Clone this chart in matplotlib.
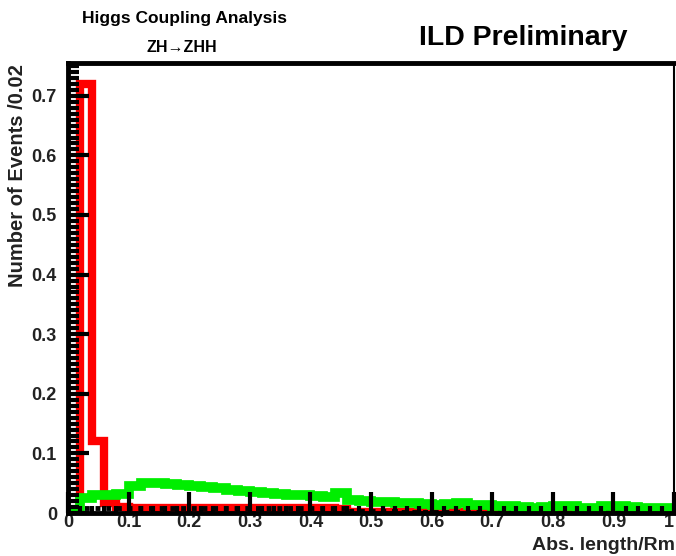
import numpy as np
import matplotlib
matplotlib.use("Agg")
import matplotlib.pyplot as plt
from matplotlib.ticker import MultipleLocator

plt.rcParams['font.family'] = ['Liberation Sans', 'DejaVu Sans']

# 50 bins of width 0.02 in Abs. length/Rm
edges = np.linspace(0.0, 1.0, 51)

signal_red = [0.002, 0.72, 0.12, 0.017, 0.010, 0.008, 0.008, 0.008, 0.008, 0.008,
              0.008, 0.008, 0.008, 0.008, 0.008, 0.008, 0.008, 0.008, 0.008, 0.008,
              0.008, 0.008, 0.007, 0.002, 0.002, 0.002, 0.002, 0.002, 0.001, 0.001,
              0.001, 0.001, 0.001, 0.001, 0.001, 0.001, 0.001, 0.001, 0.001, 0.001,
              0.001, 0.001, 0.001, 0.001, 0.001, 0.001, 0.001, 0.001, 0.001, 0.001]

bkg_black = [0.0, 0.009, 0.009, 0.009, 0.009, 0.009, 0.009, 0.009, 0.009, 0.009,
             0.009, 0.009, 0.009, 0.009, 0.009, 0.009, 0.009, 0.009, 0.009, 0.009,
             0.009, 0.009, 0.008, 0.003, 0.003, 0.003, 0.003, 0.002, 0.001, 0.001,
             0.001, 0.001, 0.001, 0.001, 0.001, 0.001, 0.001, 0.001, 0.001, 0.001,
             0.001, 0.001, 0.001, 0.001, 0.001, 0.001, 0.001, 0.001, 0.001, 0.001]

bkg_green = [0.003, 0.026, 0.030, 0.031, 0.032, 0.046, 0.051, 0.051, 0.048, 0.047,
             0.046, 0.043, 0.042, 0.038, 0.037, 0.035, 0.034, 0.032, 0.030, 0.030,
             0.028, 0.027, 0.033, 0.021, 0.020, 0.019, 0.018, 0.017, 0.016, 0.015,
             0.014, 0.015, 0.016, 0.014, 0.013, 0.012, 0.011, 0.010, 0.008, 0.010,
             0.011, 0.011, 0.008, 0.008, 0.011, 0.011, 0.010, 0.008, 0.008, 0.008]

x_ticks = [0.0, 0.1, 0.2, 0.3, 0.4, 0.5, 0.6, 0.7, 0.8, 0.9, 1.0]
x_labels = ['0', '0.1', '0.2', '0.3', '0.4', '0.5', '0.6', '0.7', '0.8', '0.9', '1']
y_ticks = [0.0, 0.1, 0.2, 0.3, 0.4, 0.5, 0.6, 0.7]
y_labels = ['0', '0.1', '0.2', '0.3', '0.4', '0.5', '0.6', '0.7']

fig = plt.figure(figsize=(6.76, 5.56), dpi=100)
ax = fig.add_axes([68 / 676, 43 / 556, 606 / 676, 450 / 556])

ax.stairs(signal_red, edges, color='#ff0000', lw=6)
ax.stairs(bkg_black, edges, color='black', lw=3.5, ls=(0, (1, 1.2)))
ax.stairs(bkg_green, edges, color='#00ee00', lw=7)

ax.set_xticks(x_ticks)
ax.set_xticklabels(x_labels)
ax.set_yticks(y_ticks)
ax.set_yticklabels(y_labels)
ax.xaxis.set_minor_locator(MultipleLocator(0.02))
ax.yaxis.set_minor_locator(MultipleLocator(0.01))
ax.set_xlim(0, 1)
ax.set_ylim(0, 0.755)

ax.tick_params(which='major', direction='in', length=15, width=3, labelsize=13,
               labelcolor='#222222')
ax.tick_params(which='minor', direction='in', length=8, width=3)
ax.tick_params(axis='x', which='minor', length=5)
ax.tick_params(axis='x', which='major', pad=1)
ax.tick_params(axis='y', which='major', pad=8)
for lbl in ax.get_xticklabels() + ax.get_yticklabels():
    lbl.set_fontweight('bold')
# the last x label sits on the right edge of the frame
ax.get_xticklabels()[-1].set_horizontalalignment('right')

for side in ['left', 'bottom', 'top']:
    ax.spines[side].set_linewidth(3.5)
ax.spines['right'].set_linewidth(1.5)
for sp in ax.spines.values():
    sp.set_zorder(5)

fig.text(18 / 676, 1 - 64 / 556, 'Number of Events /0.02', rotation=90,
         ha='center', va='top', fontsize=14.5, fontweight='bold', color='#222222')
fig.text(675 / 676, 1 - 546 / 556, 'Abs. length/Rm', ha='right', va='center',
         fontsize=14, fontweight='bold', color='#222222')

fig.text(185 / 676, 1 - 18 / 556, 'Higgs Coupling Analysis', ha='center', va='center',
         fontsize=12.5, fontweight='bold')
fig.text(182 / 676, 1 - 47 / 556, 'ZH\u2192ZHH', ha='center', va='center',
         fontsize=11.5, fontweight='bold')
fig.text(523 / 676, 1 - 38 / 556, 'ILD Preliminary', ha='center', va='center',
         fontsize=20.5, fontweight='bold')

fig.savefig('out.png', dpi=100)
